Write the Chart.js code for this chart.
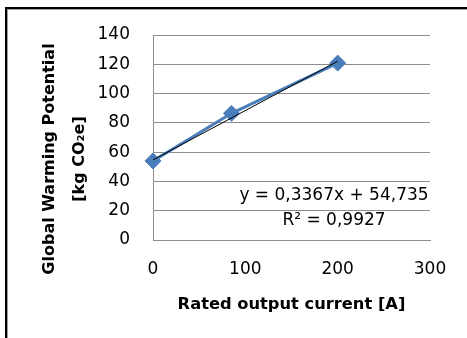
<!DOCTYPE html>
<html>
<head>
<meta charset="utf-8">
<script src="https://cdn.jsdelivr.net/npm/chart.js@4/dist/chart.umd.min.js"></script>
<style>
  html, body { margin: 0; padding: 0; background: #fff; }
  #wrap { position: absolute; left: 0; top: 0; width: 467px; height: 338px; }
</style>
</head>
<body>
<div id="wrap"><canvas id="c" width="467" height="338"></canvas></div>
<script>
// ---- data ----
const currents = [0, 85, 200];            // Rated output current [A]
const gwp = [54, 86.5, 120.8];            // Global Warming Potential [kg CO2e]
const trendX = [0, 200];
const trendY = [54.7, 122.1];
const yTicks = [0, 20, 40, 60, 80, 100, 120, 140];
const xTicks = [0, 100, 200, 300];
const yTitleLines = ['Global Warming Potential', '[kg CO\u2082e]'];
const xTitle = 'Rated output current [A]';
const equationLines = ['y = 0,3367x + 54,735', 'R\u00b2 = 0,9927'];

const BLUE = '#4A7EBB';
const GRID = '#8C8C8C';
const REG = '17px "DejaVu Sans"';
const BOLD = 'bold 16px "DejaVu Sans"';

const framePlugin = {
  id: 'frame',
  beforeDraw(chart) {
    const ctx = chart.ctx;
    ctx.save();
    ctx.fillStyle = '#fff';
    ctx.fillRect(0, 0, chart.width, chart.height);
    ctx.fillStyle = '#000';
    ctx.fillRect(5, 7, chart.width - 5, 2);
    ctx.fillRect(5, 7, 2, chart.height - 7);
    ctx.fillStyle = '#a0a0a0';
    ctx.fillRect(7, 9, chart.width - 7, 1);
    ctx.fillRect(7, 9, 1, chart.height - 9);
    ctx.restore();
  },
  afterDraw(chart) {
    const ctx = chart.ctx;
    const ca = chart.chartArea;
    ctx.save();
    // y axis title (two lines, rotated)
    ctx.fillStyle = '#000';
    ctx.font = BOLD;
    ctx.textAlign = 'center';
    ctx.textBaseline = 'middle';
    const cy = 159;
    [49.5, 80].forEach((x, i) => {
      ctx.save();
      ctx.translate(x, cy);
      ctx.rotate(-Math.PI / 2);
      ctx.fillText(yTitleLines[i], 0, 0);
      ctx.restore();
    });
    // trendline equation
    ctx.font = REG;
    const ex = ca.right - 96;
    ctx.fillText(equationLines[0], ex, 196);
    ctx.fillText(equationLines[1], ex, 221);
    ctx.restore();
  }
};

new Chart(document.getElementById('c'), {
  type: 'scatter',
  data: {
    datasets: [
      {
        label: 'Trend',
        data: trendX.map((x, i) => ({ x, y: trendY[i] })),
        showLine: true,
        borderColor: '#000',
        borderWidth: 1,
        pointRadius: 0,
        clip: false,
        order: 0
      },
      {
        label: 'GWP',
        data: currents.map((x, i) => ({ x, y: gwp[i] })),
        showLine: true,
        borderColor: BLUE,
        backgroundColor: BLUE,
        borderWidth: 3,
        pointStyle: 'rectRot',
        pointRadius: 8,
        pointBorderWidth: 1,
        pointBorderColor: BLUE,
        pointBackgroundColor: BLUE,
        clip: false,
        order: 1
      }
    ]
  },
  options: {
    responsive: false,
    animation: false,
    events: [],
    layout: { padding: { top: 35, right: 37, bottom: 0, left: 0 } },
    plugins: { legend: { display: false }, tooltip: { enabled: false } },
    scales: {
      x: {
        type: 'linear',
        min: xTicks[0],
        max: xTicks[xTicks.length - 1],
        afterBuildTicks(s) { s.ticks = xTicks.map(v => ({ value: v })); },
        afterFit(s) { s.height = 98; },
        grid: { display: false, drawTicks: false },
        border: { display: true, color: GRID, width: 1 },
        ticks: { color: '#000', font: { family: 'DejaVu Sans', size: 17 }, padding: 19, maxRotation: 0 },
        title: {
          display: true,
          text: xTitle,
          color: '#000',
          font: { family: 'DejaVu Sans', size: 16.3, weight: 'bold' },
          padding: { top: 0, bottom: 23 }
        }
      },
      y: {
        type: 'linear',
        min: yTicks[0],
        max: yTicks[yTicks.length - 1],
        afterBuildTicks(s) { s.ticks = yTicks.map(v => ({ value: v })); },
        afterFit(s) { s.width = 153; },
        grid: { color: GRID, lineWidth: 1, drawTicks: false },
        border: { display: true, color: GRID, width: 1 },
        ticks: { color: '#000', font: { family: 'DejaVu Sans', size: 17 }, padding: 23 }
      }
    }
  },
  plugins: [framePlugin]
});
</script>
</body>
</html>
